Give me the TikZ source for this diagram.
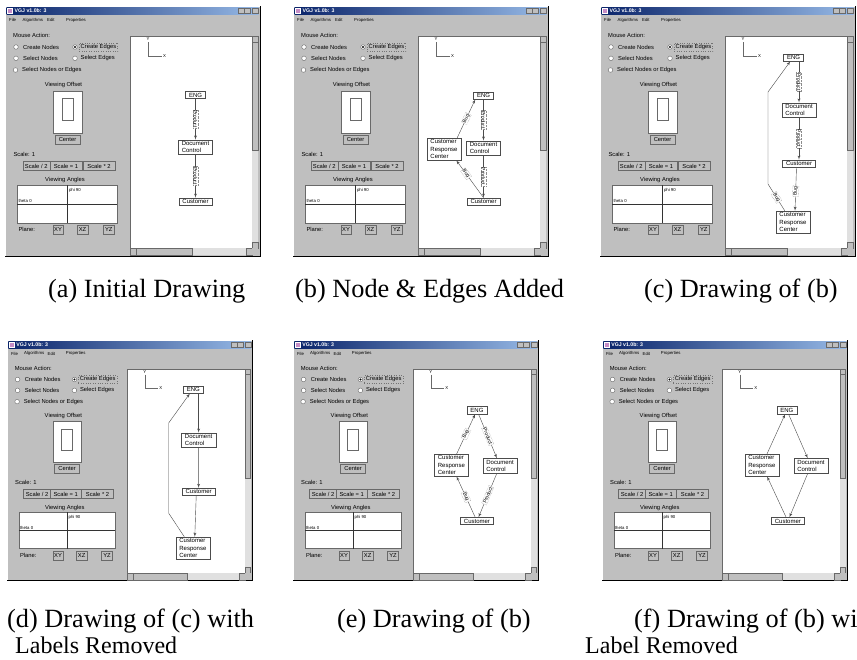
\documentclass[tikz,border=0pt]{standalone}
\usepackage{fontspec}
\setmainfont{Liberation Serif}
\newfontfamily\guisans{Liberation Sans}
\usepackage{tikz}
\usetikzlibrary{shapes,arrows,positioning,calc}
\definecolor{guigray}{RGB}{191,191,191}
\definecolor{guidark}{RGB}{105,105,105}
\definecolor{trackgray}{RGB}{224,224,224}
\definecolor{titleblue}{RGB}{10,36,106}
\definecolor{titlefade}{RGB}{150,185,230}
\newcommand{\guifont}{\guisans\fontsize{5.8}{6.5}\selectfont}
\newcommand{\menufont}{\guisans\fontsize{4.3}{5}\selectfont}
\newcommand{\titlefont}{\guisans\bfseries\fontsize{5.2}{6}\selectfont}
\newcommand{\nodefont}{\guisans\fontsize{6}{7.4}\selectfont}
\newcommand{\edgefont}{\guisans\fontsize{5}{6}\selectfont}
\newcommand{\capfont}{\fontsize{26.3}{30}\selectfont}
\newcommand{\subcapfont}{\fontsize{24}{28}\selectfont}
\tikzset{
    guitext/.style={font=\guifont, anchor=west, inner sep=0pt},
    smalltext/.style={font=\menufont, anchor=west, inner sep=0pt},
    titletext/.style={font=\titlefont, text=white, anchor=west, inner sep=0pt},
    titlebtn/.style={rectangle, draw=guidark, fill=guigray, minimum width=6pt, minimum height=5pt, inner sep=0pt},
    guibtn/.style={rectangle, draw=guidark, fill=guigray, font=\guifont, inner sep=0pt, minimum height=9pt},
    focusbox/.style={guitext, draw=black!55, dotted, inner xsep=1.5pt, inner ysep=1.3pt},
    radio/.style={circle, draw=guidark, fill=white, minimum size=4.6pt, inner sep=0pt},
    radioon/.style={radio, path picture={\fill [black] (path picture bounding box.center) circle (1.1pt);}},
    panel/.style={draw=guidark, fill=white},
    gnode/.style={rectangle, draw=black!70, fill=white, font=\nodefont, align=left, inner xsep=3.5pt, inner ysep=1.5pt},
    line/.style={draw=black!70, -latex'},
    elabel/.style={draw=black!45, densely dotted, fill=white, font=\edgefont, inner sep=0.8pt, sloped},
    caption/.style={font=\capfont, anchor=base west, inner sep=0pt},
    subcaption/.style={font=\subcapfont, anchor=base west, inner sep=0pt}
}

% one VGJ application window, drawn in its own pixel frame (255 x 250)
\newcommand{\vgjwindow}[1]{%
    % frame and title bar
    \fill [guigray] (0,0) rectangle (255,250);
    \draw [white] (0.5,250) -- (0.5,0.5) -- (255,0.5);
    \draw [black, line width=1pt] (0,250) -- (255,250) -- (255,0);
    \shade [left color=titleblue, right color=titlefade] (1.5,1.5) rectangle (253.5,8.5);
    \node [draw=white, fill=violet!45, minimum size=5pt, inner sep=0pt] (#1-icon) at (5,5) {};
    \node [titletext] (#1-title) at (9.5,5) {VGJ v1.0b: 3};
    \node [titlebtn] (#1-min) at (236,5) {};
    \node [titlebtn] (#1-max) at (242.5,5) {};
    \node [titlebtn] (#1-close) at (250,5) {};
    % menu bar
    \node [smalltext] (#1-file) at (4,14) {File};
    \node [smalltext] (#1-algo) at (17.5,14) {Algorithms};
    \node [smalltext] (#1-edit) at (42,14) {Edit};
    \node [smalltext] (#1-props) at (61,14) {Properties};
    % mouse action
    \node [guitext] (#1-mouse) at (8,29) {Mouse Action:};
    \node [radio] (#1-r1) at (11,41) {};
    \node [guitext, right=4.5pt of #1-r1] (#1-r1t) {Create Nodes};
    \node [radioon] (#1-r2) at (70,41) {};
    \node [focusbox] (#1-r2t) at (74,41) {Create Edges};
    \node [radio] (#1-r3) at (11,52.3) {};
    \node [guitext, right=4.5pt of #1-r3] (#1-r3t) {Select Nodes};
    \node [radio] (#1-r4) at (70,52.3) {};
    \node [guitext, right=3pt of #1-r4] (#1-r4t) {Select Edges};
    \node [radio] (#1-r5) at (10.5,64) {};
    \node [guitext, right=4pt of #1-r5] (#1-r5t) {Select Nodes or Edges};
    % viewing offset
    \node [guitext, anchor=center] (#1-offlabel) at (58.5,79) {Viewing Offset};
    \draw [panel] (48.3,84.7) rectangle (76.7,127.3);
    \draw [panel] (56.7,92.3) rectangle (67.7,114);
    \node [guibtn, minimum width=25pt] (#1-center) at (62.5,133.5) {Center};
    % scale
    \node [guitext] (#1-scale) at (8.3,148) {Scale: 1};
    \node [guibtn, minimum width=27pt] (#1-s1) at (31.2,160) {Scale / 2};
    \node [guibtn, minimum width=31.5pt] (#1-s2) at (61,160) {Scale = 1};
    \node [guibtn, minimum width=32pt] (#1-s3) at (94,160) {Scale * 2};
    % viewing angles
    \node [guitext, anchor=center] (#1-anglabel) at (60,174) {Viewing Angles};
    \draw [panel] (12.3,179) rectangle (112.3,216.7);
    \draw [black!80] (62.3,179) -- (62.3,216.7);
    \draw [black!80] (12.3,198) -- (112.3,198);
    \node [smalltext] (#1-phi) at (63.8,184.7) {phi 90};
    \node [smalltext] (#1-theta) at (13.3,195.2) {theta 0};
    \node [guitext] (#1-plane) at (13.3,223.5) {Plane:};
    \node [guibtn, minimum width=10.6pt] (#1-xy) at (53,223.7) {XY};
    \node [guibtn, minimum width=10.6pt] (#1-xz) at (77.5,223.7) {XZ};
    \node [guibtn, minimum width=10.6pt] (#1-yz) at (103.8,223.7) {YZ};
    % drawing canvas and scroll bars
    \draw [guidark, fill=white] (125,30) rectangle (247,242);
    \fill [trackgray] (247,30) rectangle (253,242);
    \fill [trackgray] (125,242) rectangle (247,249);
    \draw [guidark, fill=guigray] (247,30) rectangle (253,36);
    \draw [guidark, fill=guigray] (247,36) rectangle (253,144);
    \draw [guidark, fill=guigray] (247,236) rectangle (253,242);
    \draw [guidark, fill=guigray] (125,242) rectangle (131,249);
    \draw [guidark, fill=guigray] (131,242) rectangle (187,249);
    \draw [guidark, fill=guigray] (241,242) rectangle (247,249);
    \fill [guigray] (247,242) rectangle (253,249);
    % axes
    \draw [guidark] (143,36) -- (143,50) -- (157,50);
    \node [font=\menufont, inner sep=0pt] (#1-ylab) at (143,33) {Y};
    \node [font=\menufont, inner sep=0pt, anchor=west] (#1-xlab) at (158,50) {X};
}

\begin{document}
\begin{tikzpicture}[x=1pt, y=-1pt]
    \clip (0,0) rectangle (857,659);
    \fill [white] (0,0) rectangle (857,659);

    % (a) first drawing
    \begin{scope}[shift={(5,6)}]
        \vgjwindow{a}
        \node [gnode] (a-eng) at (190.5,89) {ENG};
        \node [gnode] (a-doc) at (190.5,141) {Document\\Control};
        \node [gnode] (a-cust) at (190.5,195.5) {Customer};
        \path [line] (a-eng) -- node [elabel] (a-l1) {Product} (a-doc);
        \path [line] (a-doc) -- node [elabel] (a-l2) {Product} (a-cust);
    \end{scope}

    % (b) new node and bug edges
    \begin{scope}[shift={(293,6)}]
        \vgjwindow{b}
        \node [gnode] (b-eng) at (190.5,89.5) {ENG};
        \node [gnode] (b-doc) at (190.5,142) {Document\\Control};
        \node [gnode] (b-cust) at (190.5,195.5) {Customer};
        \node [gnode] (b-crc) at (151,143) {Customer\\Response\\Center};
        \path [line] (b-eng) -- node [elabel] (b-l1) {Product} (b-doc);
        \path [line] (b-doc) -- node [elabel] (b-l2) {Product} (b-cust);
        \path [line] (b-cust.north) -- node [elabel, pos=0.64] (b-l3) {Bug} ([xshift=-5pt]b-crc.south east);
        \path [line] ([xshift=-4pt]b-crc.north east) -- node [elabel] (b-l4) {Bug} ([xshift=2pt]b-eng.south west);
    \end{scope}

    % (c) layered drawing
    \begin{scope}[shift={(600,6)}]
        \vgjwindow{c}
        \node [gnode] (c-eng) at (193.5,51.5) {ENG};
        \node [gnode] (c-doc) at (199,104) {Document\\Control};
        \node [gnode] (c-cust) at (199,157.5) {Customer};
        \node [gnode] (c-crc) at (193,216) {Customer\\Response\\Center};
        \coordinate (c-bend1) at (168,178);
        \coordinate (c-bend2) at (168,86);
        \path [line] (c-eng.south -| c-doc.north) -- node [elabel] (c-l1) {Product} (c-doc.north);
        \path [line] (c-doc) -- node [elabel] (c-l2) {Product} (c-cust);
        \path [line] ([xshift=-2.5pt]c-cust.south) -- node [elabel, pos=0.55] (c-l3) {Bug} ([xshift=2pt]c-crc.north);
        \path [line] ([xshift=9pt]c-crc.north west) -- node [elabel] (c-l4) {Bug} (c-bend1) -- (c-bend2) -- ([xshift=7pt]c-eng.south west);
    \end{scope}

    % (d) layered drawing, no labels
    \begin{scope}[shift={(7,340)}, scale=0.963]
        \vgjwindow{d}
        \node [gnode] (d-eng) at (193.5,51.5) {ENG};
        \node [gnode] (d-doc) at (199,104) {Document\\Control};
        \node [gnode] (d-cust) at (199,157.5) {Customer};
        \node [gnode] (d-crc) at (193,216) {Customer\\Response\\Center};
        \coordinate (d-bend1) at (168,180);
        \coordinate (d-bend2) at (168,86);
        \path [line] (d-eng.south -| d-doc.north) -- (d-doc.north);
        \path [line] (d-doc) -- (d-cust);
        \path [line] ([xshift=-2.5pt]d-cust.south) -- ([xshift=2pt]d-crc.north);
        \path [line] ([xshift=9pt]d-crc.north west) -- (d-bend1) -- (d-bend2) -- ([xshift=7pt]d-eng.south west);
    \end{scope}

    % (e) diamond drawing
    \begin{scope}[shift={(293,340)}, scale=0.963]
        \vgjwindow{e}
        \node [gnode] (e-eng) at (191,73) {ENG};
        \node [gnode] (e-doc) at (215,130.5) {Document\\Control};
        \node [gnode] (e-crc) at (164.5,130) {Customer\\Response\\Center};
        \node [gnode] (e-cust) at (191,188) {Customer};
        \path [line] (e-eng) -- node [elabel] (e-l1) {Product} (e-doc);
        \path [line] (e-doc) -- node [elabel] (e-l2) {Product} (e-cust);
        \path [line] (e-cust) -- node [elabel] (e-l3) {Bug} (e-crc);
        \path [line] (e-crc) -- node [elabel] (e-l4) {Bug} (e-eng);
    \end{scope}

    % (f) diamond drawing, no labels
    \begin{scope}[shift={(602,340)}, scale=0.963]
        \vgjwindow{f}
        \node [gnode] (f-eng) at (192,73) {ENG};
        \node [gnode] (f-doc) at (217,130.5) {Document\\Control};
        \node [gnode] (f-crc) at (166,130) {Customer\\Response\\Center};
        \node [gnode] (f-cust) at (193,188) {Customer};
        \path [line] (f-eng) -- (f-doc);
        \path [line] (f-doc) -- (f-cust);
        \path [line] (f-cust) -- (f-crc);
        \path [line] (f-crc) -- (f-eng);
    \end{scope}

    % Captions
    \node [caption] (cap-a) at (48,297.5) {(a) Initial Drawing};
    \node [caption] (cap-b) at (295,297.5) {(b) Node \& Edges Added};
    \node [caption] (cap-c) at (644,297.5) {(c) Drawing of (b)};
    \node [caption] (cap-d) at (7,627) {(d) Drawing of (c) with};
    \node [subcaption] (cap-d2) at (15,653) {Labels Removed};
    \node [caption] (cap-e) at (337,627) {(e) Drawing of (b)};
    \node [caption] (cap-f) at (634,627) {(f) Drawing of (b) with};
    \node [subcaption] (cap-f2) at (585,653) {Label Removed};
\end{tikzpicture}
\end{document}
